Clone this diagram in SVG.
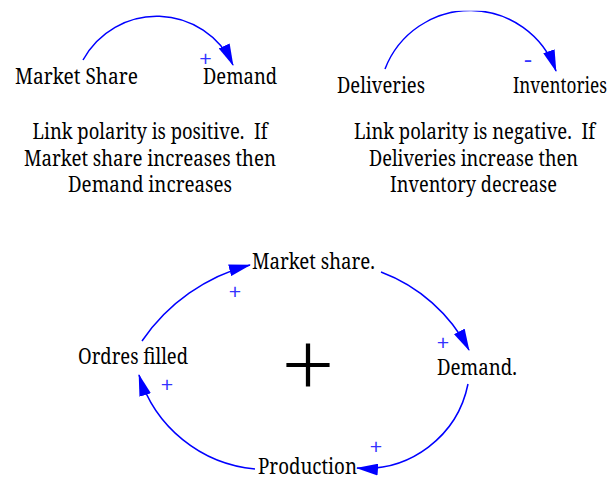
<svg xmlns="http://www.w3.org/2000/svg" width="616" height="477" viewBox="0 0 616 477">
<style>
text{font-family:"Noto Serif","DejaVu Serif",serif}
.lbl{font-size:21px;fill:#000}
.note{font-size:21px;fill:#000;text-anchor:middle;white-space:pre}
.pol{font-size:24px;fill:#3333ff;text-anchor:middle}
.link{fill:none;stroke:#0000ff;stroke-width:1.5;marker-end:url(#ah)}
</style>
<defs>
<marker id="ah" markerUnits="userSpaceOnUse" markerWidth="22" markerHeight="12" refX="21" refY="6" orient="auto" viewBox="0 0 22 12">
<path d="M0,0 L22,6 L0,12 z" fill="#0000ff"/>
</marker>
<clipPath id="topclip"><rect x="300" y="10.7" width="316" height="100"/></clipPath>
</defs>
<rect width="616" height="477" fill="#fff"/>
<g id="connectors">
<path class="link" d="M83,60 A84,84 0 0,1 233,65"/>
<path class="link" clip-path="url(#topclip)" d="M385,69 A91.2,91.2 0 0,1 556,71"/>
<path class="link" d="M142,341 A188,188 0 0,1 250,265"/>
<path class="link" d="M381,272 A164,164 0 0,1 469,350"/>
<path class="link" d="M468,384 A105,105 0 0,1 357,468"/>
<path class="link" d="M255,469 A134,134 0 0,1 139,375"/>
<text class="pol" x="205.5" y="67">+</text>
<text class="pol" x="528" y="68">-</text>
<text class="pol" x="235" y="300">+</text>
<text class="pol" x="443" y="351">+</text>
<text class="pol" x="376" y="455">+</text>
<text class="pol" x="167" y="393">+</text>
</g>
<g id="node-market-share"><text class="lbl" x="15" y="84" textLength="123" lengthAdjust="spacingAndGlyphs">Market Share</text></g>
<g id="node-demand"><text class="lbl" x="203" y="84" textLength="74" lengthAdjust="spacingAndGlyphs">Demand</text></g>
<g id="node-deliveries"><text class="lbl" x="337" y="93" textLength="88" lengthAdjust="spacingAndGlyphs">Deliveries</text></g>
<g id="node-inventories"><text class="lbl" x="513" y="93" textLength="94" lengthAdjust="spacingAndGlyphs">Inventories</text></g>
<g id="note-positive">
<text class="note" xml:space="preserve" x="150" y="139" textLength="235" lengthAdjust="spacingAndGlyphs">Link polarity is positive.  If</text>
<text class="note" x="150" y="165.5" textLength="252" lengthAdjust="spacingAndGlyphs">Market share increases then</text>
<text class="note" x="150" y="192" textLength="164" lengthAdjust="spacingAndGlyphs">Demand increases</text>
</g>
<g id="note-negative">
<text class="note" xml:space="preserve" x="474.5" y="139" textLength="241" lengthAdjust="spacingAndGlyphs">Link polarity is negative.  If</text>
<text class="note" x="473.5" y="165.5" textLength="209" lengthAdjust="spacingAndGlyphs">Deliveries increase then</text>
<text class="note" x="473.5" y="192" textLength="167" lengthAdjust="spacingAndGlyphs">Inventory decrease</text>
</g>
<g id="node-market-share-loop"><text class="lbl" x="252" y="269" textLength="123" lengthAdjust="spacingAndGlyphs">Market share.</text></g>
<g id="node-demand-loop"><text class="lbl" x="437" y="375" textLength="80" lengthAdjust="spacingAndGlyphs">Demand.</text></g>
<g id="node-production"><text class="lbl" x="258" y="474" textLength="99" lengthAdjust="spacingAndGlyphs">Production</text></g>
<g id="node-ordres-filled"><text class="lbl" x="78" y="364" textLength="110" lengthAdjust="spacingAndGlyphs">Ordres filled</text></g>
<g id="loop-polarity"><text x="308" y="356" dominant-baseline="central" style="font-family:Inter,'Noto Sans',sans-serif;font-weight:200;font-size:100px;fill:#000;text-anchor:middle">+</text></g>
</svg>
